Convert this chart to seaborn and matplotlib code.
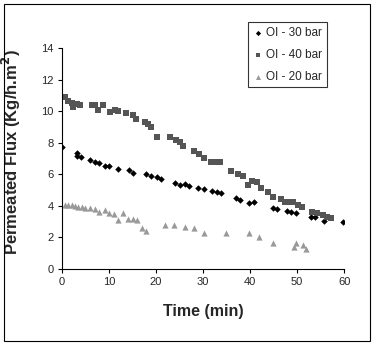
import matplotlib
matplotlib.use("Agg")
import matplotlib.pyplot as plt
import seaborn as sns
import pandas as pd
from matplotlib.patches import Rectangle

t30 = [0, 3.1, 3.2, 4.0, 5.9, 7.0, 7.9, 9.1, 10.0, 11.9, 14.2, 15.1, 17.9, 19.0, 20.1, 21.0,
       24.0, 25.0, 26.1, 27.0, 28.9, 30.1, 31.9, 32.9, 33.8, 37.0, 37.9, 39.8, 40.9, 44.8,
       45.8, 47.9, 48.8, 49.7, 52.9, 53.8, 55.7, 59.7]
f30 = [7.74, 7.35, 7.15, 7.07, 6.9, 6.75, 6.69, 6.52, 6.52, 6.31, 6.26, 6.1, 6.01, 5.89, 5.81, 5.68,
       5.47, 5.32, 5.38, 5.26, 5.11, 5.05, 4.96, 4.86, 4.81, 4.53, 4.36, 4.17, 4.27, 3.89,
       3.8, 3.7, 3.64, 3.58, 3.32, 3.32, 3.04, 3.0]

t40 = [0.6, 1.3, 2.05, 2.4, 3.1, 3.8, 6.3, 7.0, 7.7, 8.75, 10.2, 11.2, 11.9, 13.7, 15.1, 15.8,
       17.6, 18.3, 19.0, 20.1, 23.0, 24.3, 25.0, 25.7, 28.0, 29.2, 30.1, 31.7, 32.8, 33.6,
       35.9, 37.4, 38.4, 39.5, 40.5, 41.4, 42.4, 43.9, 44.9, 46.5, 47.5, 48.3, 49.2, 50.3,
       51.1, 53.2, 54.3, 55.5, 56.4, 57.3]
f40 = [10.88, 10.66, 10.49, 10.28, 10.43, 10.38, 10.38, 10.38, 10.07, 10.38, 9.93, 10.07, 10.03, 9.86, 9.75, 9.53,
       9.33, 9.18, 8.97, 8.34, 8.38, 8.17, 8.02, 7.8, 7.47, 7.28, 7.01, 6.75, 6.75, 6.75,
       6.22, 6.05, 5.89, 5.32, 5.57, 5.53, 5.11, 4.9, 4.56, 4.46, 4.27, 4.27, 4.27, 4.05,
       3.9, 3.63, 3.53, 3.42, 3.31, 3.21]

t20 = [0.6, 1.3, 2.05, 2.75, 3.46, 4.2, 4.9, 5.9, 7.0, 7.9, 9.1, 10.0, 11.1, 11.9, 13.0, 14.1,
       15.1, 16.0, 17.0, 17.9, 22.0, 23.8, 26.1, 28.0, 30.1, 34.9, 39.8, 41.9, 44.9, 49.4,
       49.8, 51.3, 51.8]
f20 = [4.06, 4.08, 4.04, 3.99, 3.95, 3.95, 3.89, 3.89, 3.8, 3.59, 3.74, 3.53, 3.46, 3.1, 3.53, 3.17,
       3.17, 3.1, 2.58, 2.43, 2.82, 2.82, 2.68, 2.58, 2.26, 2.3, 2.26, 2.05, 1.66, 1.41,
       1.62, 1.52, 1.24]

labels = ["OI - 30 bar", "OI - 40 bar", "OI - 20 bar"]
x_ticks = [0, 10, 20, 30, 40, 50, 60]
y_ticks = [0, 2, 4, 6, 8, 10, 12, 14]

df = pd.concat([
    pd.DataFrame({"Time": t30, "Flux": f30, "Series": labels[0]}),
    pd.DataFrame({"Time": t40, "Flux": f40, "Series": labels[1]}),
    pd.DataFrame({"Time": t20, "Flux": f20, "Series": labels[2]}),
])

sns.set_style("white")
plt.rcParams["font.family"] = ["Liberation Sans", "DejaVu Sans"]

fig = plt.figure(figsize=(3.74, 3.43), dpi=100)
ax = fig.add_axes([0.166, 0.2157, 0.754, 0.6443])

palette = {labels[0]: "#000000", labels[1]: "#555555", labels[2]: "#999999"}
markers = {labels[0]: "D", labels[1]: "s", labels[2]: "^"}
sizes = {labels[0]: 11, labels[1]: 17, labels[2]: 20}
for lab in labels:
    sub = df[df["Series"] == lab]
    sns.scatterplot(data=sub, x="Time", y="Flux", color=palette[lab], marker=markers[lab],
                    s=sizes[lab], linewidth=0, ax=ax, label=lab)

ax.set_xlim(0, 60)
ax.set_ylim(0, 14)
ax.set_xticks(x_ticks)
ax.set_yticks(y_ticks)
ax.tick_params(axis="both", labelsize=8, direction="out", length=3, width=0.8,
               color="black", bottom=True, left=True, pad=3)
for s in ["top", "right"]:
    ax.spines[s].set_visible(False)
for s in ["left", "bottom"]:
    ax.spines[s].set_color("black")
    ax.spines[s].set_linewidth(0.8)
ax.set_xlabel("Time (min)", fontsize=11.5, fontweight="bold", labelpad=12)
ax.set_ylabel("Permeated Flux (Kg/h.m$^\\mathbf{2}$)", fontsize=12, fontweight="bold")
ax.yaxis.set_label_coords(-0.138, 0.53)

leg = ax.legend(loc="upper left", bbox_to_anchor=(0.66, 1.118), borderaxespad=0, fontsize=8.5,
                frameon=True, fancybox=False, edgecolor="black", borderpad=0.4, handletextpad=0.3,
                labelspacing=0.85, handlelength=0.8, markerscale=0.8)
leg.get_frame().set_linewidth(0.8)

fig.patches.append(Rectangle((0.0107, 0.0058), 0.979, 0.9825, transform=fig.transFigure,
                             fill=False, edgecolor="black", linewidth=0.8))

fig.savefig("out.png", dpi=100)
